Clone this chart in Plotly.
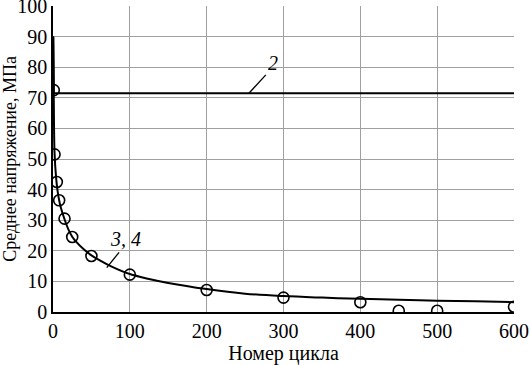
import plotly.graph_objects as go

# Data
pts_x = [1, 2, 5, 8, 15, 25, 50, 100, 200, 300, 400, 450, 500, 600]
pts_y = [72.5, 51.5, 42.5, 36.5, 30.5, 24.5, 18.3, 12.2, 7.2, 4.7, 3.2, 0.4, 0.4, 1.7]

curve34_x = [0.3, 1, 2, 4, 6, 8, 10, 15, 20, 25, 30, 40, 50, 60, 75, 100, 125, 150, 200,
             250, 300, 350, 400, 450, 500, 550, 600]
curve34_y = [90, 70, 52, 44, 39.5, 36.5, 34.3, 30.3, 27, 24.6, 23, 20.5, 18.5, 17, 15, 12.4,
             10.8, 9.5, 7.5, 6.0, 5.2, 4.7, 4.3, 4.0, 3.7, 3.5, 3.2]

curve2_x = [0.3, 1, 600]
curve2_y = [90, 71.5, 71.5]

x_ticks = [0, 100, 200, 300, 400, 500, 600]
y_ticks = [0, 10, 20, 30, 40, 50, 60, 70, 80, 90, 100]

font = "Liberation Serif"

fig = go.Figure()
fig.add_trace(go.Scatter(x=curve2_x, y=curve2_y, mode="lines",
                         line=dict(color="black", width=2), showlegend=False))
fig.add_trace(go.Scatter(x=curve34_x, y=curve34_y, mode="lines", line_shape="spline",
                         line=dict(color="black", width=2), showlegend=False))
fig.add_trace(go.Scatter(x=pts_x, y=pts_y, mode="markers",
                         marker=dict(symbol="circle-open", size=11, color="black",
                                     line=dict(width=1.6, color="black")),
                         showlegend=False))

# leader lines and labels
fig.add_shape(type="line", x0=255, y0=71.5, x1=277, y1=77.5,
              line=dict(color="black", width=1.3))
fig.add_annotation(x=286, y=81.5, text="<i>2</i>", showarrow=False,
                   font=dict(family=font, size=20, color="black"))
fig.add_shape(type="line", x0=70, y0=14.5, x1=86, y1=19.5,
              line=dict(color="black", width=1.3))
fig.add_annotation(x=94, y=23.8, text="<i>3, 4</i>", showarrow=False,
                   font=dict(family=font, size=20, color="black"))

fig.update_layout(
    width=530, height=365,
    margin=dict(l=53, r=16, t=6, b=53),
    paper_bgcolor="white", plot_bgcolor="white",
    font=dict(family=font, size=18, color="black"),
    xaxis=dict(range=[0, 600], tickvals=x_ticks, showgrid=True, gridcolor="#a0a0a0",
               gridwidth=1, showline=True, linecolor="black", linewidth=1.5,
               zeroline=False, ticks="", tickfont=dict(family=font, size=20),
               ticklabeloverflow="allow", automargin=False,
               title=dict(text="Номер цикла", font=dict(family=font, size=20), standoff=6)),
    yaxis=dict(range=[0, 100], tickvals=y_ticks, showgrid=True, gridcolor="#a0a0a0",
               gridwidth=1, showline=True, linecolor="black", linewidth=1.5,
               zeroline=False, ticks="", tickfont=dict(family=font, size=20),
               ticklabeloverflow="allow", automargin=False,
               title=dict(text="Среднее напряжение, МПа", font=dict(family=font, size=18),
                          standoff=2)),
)

fig.write_html("out.html", config={"displayModeBar": False},
               post_script="document.body.style.margin='0px';")
